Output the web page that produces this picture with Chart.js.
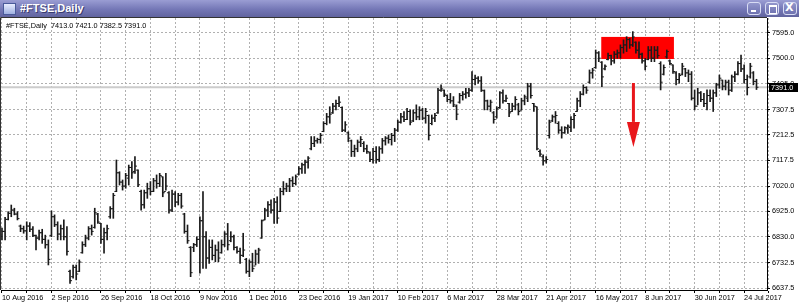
<!DOCTYPE html>
<html>
<head>
<meta charset="utf-8">
<script src="https://cdn.jsdelivr.net/npm/chart.js@4.4.1/dist/chart.umd.min.js"></script>
<style>
  html, body { margin: 0; padding: 0; background: #fff; }
  #wrap { position: relative; width: 799px; height: 306px; overflow: hidden; }
  #titlebar {
    position: absolute; left: 0; top: 0; width: 799px; height: 17px;
    background: linear-gradient(#9a9dd3, #7477b6 55%, #61649f);
  }
  #titlebar .icon {
    position: absolute; left: 3px; top: 3px; width: 11px; height: 10px;
    background: linear-gradient(#e8ecff, #9fb0e0); border: 1px solid #4a5a9a;
  }
  #titlebar .caption {
    position: absolute; left: 20px; top: 2px; color: #fff;
    font: bold 11px "Liberation Sans", Arial, sans-serif; text-shadow: 1px 1px 0 #3a3c70;
  }
  .btn {
    position: absolute; top: 2px; width: 14px; height: 13px; border-radius: 3px;
    border: 1px solid #d8dcf4; background: linear-gradient(#9296cc, #6e72b0);
    box-sizing: border-box;
  }
  .btn i { position: absolute; display: block; }
  .btn.min i { left: 3px; top: 7px; width: 5px; height: 2px; background: #fff; }
  .btn.max i { left: 3px; top: 2px; width: 6px; height: 6px; border: 1px solid #fff; border-top-width: 2px; }
  .btn.close i { left: 1px; top: -2px; color: #fff; font: bold 11px "DejaVu Sans", sans-serif; font-style: normal; }
  #chartBox { position: absolute; left: 0; top: 17px; width: 799px; height: 289px; }
  #info {
    position: absolute; left: 6px; top: 21px; color: #000;
    font: 7.3px "Liberation Sans", Arial, sans-serif; white-space: pre;
  }
</style>
</head>
<body>
<div id="wrap">
  <div id="titlebar">
    <div class="icon"></div>
    <div class="caption">#FTSE,Daily</div>
    <div class="btn min" style="left:747px"><i></i></div>
    <div class="btn max" style="left:765px"><i></i></div>
    <div class="btn close" style="left:783px"><i>X</i></div>
  </div>
  <div id="chartBox"><canvas id="ohlcChart"></canvas></div>
  <div id="info"></div>
</div>
<script>
// axis labels
const tickLabels = ["10 Aug 2016", "2 Sep 2016", "26 Sep 2016", "18 Oct 2016", "9 Nov 2016", "1 Dec 2016",
  "23 Dec 2016", "19 Jan 2017", "10 Feb 2017", "6 Mar 2017", "28 Mar 2017", "21 Apr 2017",
  "16 May 2017", "8 Jun 2017", "30 Jun 2017", "24 Jul 2017"];
const tickBars = [0, 16, 32, 48, 64, 80, 96, 112, 128, 144, 160, 176, 192, 208, 224, 240];
const yTicks = [6637.5, 6732.5, 6830.0, 6925.0, 7020.0, 7117.5, 7212.5, 7307.5, 7405.0, 7500.0, 7595.0];

// daily OHLC, one value per bar (10 Aug 2016 .. 31 Jul 2017)
const opens = [
  6830, 6850, 6895, 6918, 6930, 6915, 6870, 6860, 6852, 6870,
  6858, 6835, 6825, 6845, 6820, 6800, 6835, 6905, 6875, 6840,
  6860, 6830, 6700, 6680, 6715, 6700, 6770, 6800, 6825, 6860,
  6865, 6915, 6880, 6820, 6845, 6905, 6935, 7000, 7070, 7035,
  7020, 7050, 7090, 7075, 7080, 7000, 6950, 6995, 7010, 7000,
  7040, 7030, 7055, 7000, 6995, 6930, 6990, 6960, 6985, 6915,
  6850, 6790, 6790, 6800, 6820, 6890, 6830, 6750, 6790, 6760,
  6780, 6770, 6800, 6840, 6815, 6830, 6790, 6775, 6760, 6745,
  6700, 6735, 6720, 6765, 6825, 6893, 6930, 6950, 6930, 6960,
  6925, 7000, 7010, 7020, 7040, 7030, 7065, 7085, 7100, 7110,
  7160, 7180, 7190, 7195, 7225, 7255, 7280, 7295, 7320, 7330,
  7315, 7230, 7220, 7190, 7150, 7160, 7185, 7180, 7160, 7145,
  7120, 7150, 7120, 7160, 7190, 7200, 7195, 7210, 7230, 7260,
  7280, 7270, 7300, 7265, 7295, 7280, 7305, 7275, 7285, 7255,
  7275, 7295, 7380, 7380, 7360, 7345, 7340, 7320, 7335, 7360,
  7365, 7370, 7380, 7420, 7425, 7415, 7378, 7340, 7320, 7295,
  7280, 7315, 7370, 7340, 7330, 7300, 7320, 7325, 7305, 7340,
  7350, 7395, 7330, 7318, 7150, 7130, 7115, 7210, 7265, 7280,
  7255, 7230, 7220, 7235, 7240, 7270, 7300, 7340, 7365, 7390,
  7410, 7445, 7465, 7520, 7485, 7460, 7495, 7510, 7490, 7515,
  7520, 7540, 7550, 7570, 7550, 7560, 7530, 7515, 7490, 7495,
  7530, 7500, 7530, 7480, 7440, 7505, 7490, 7475, 7445, 7420,
  7440, 7460, 7445, 7440, 7350, 7320, 7370, 7345, 7330, 7360,
  7350, 7370, 7400, 7418, 7395, 7410, 7380, 7430, 7440, 7480,
  7460, 7420, 7430, 7445, 7413
];
const highs = [
  6862, 6903, 6924, 6949, 6937, 6924, 6874, 6870, 6886, 6883,
  6868, 6836, 6855, 6858, 6836, 6818, 6927, 6912, 6886, 6874,
  6893, 6868, 6705, 6724, 6724, 6743, 6811, 6836, 6868, 6874,
  6937, 6918, 6880, 6862, 6874, 6943, 6993, 7118, 7074, 7043,
  7068, 7099, 7112, 7131, 7081, 7005, 7005, 7031, 7037, 7049,
  7062, 7068, 7055, 7068, 6999, 7005, 6999, 6993, 6993, 6918,
  6874, 6793, 6805, 6830, 6905, 6999, 6849, 6818, 6818, 6799,
  6811, 6818, 6849, 6880, 6849, 6836, 6793, 6787, 6843, 6749,
  6743, 6768, 6780, 6787, 6893, 6937, 6962, 6968, 6974, 6980,
  7012, 7037, 7031, 7049, 7055, 7062, 7093, 7106, 7118, 7131,
  7206, 7206, 7200, 7218, 7262, 7293, 7318, 7331, 7343, 7356,
  7318, 7262, 7224, 7193, 7174, 7193, 7206, 7187, 7174, 7149,
  7162, 7168, 7168, 7199, 7206, 7212, 7218, 7237, 7268, 7293,
  7300, 7312, 7306, 7306, 7325, 7318, 7312, 7312, 7287, 7287,
  7293, 7387, 7400, 7381, 7362, 7368, 7356, 7325, 7368, 7375,
  7387, 7387, 7450, 7437, 7431, 7431, 7381, 7343, 7343, 7300,
  7318, 7375, 7381, 7362, 7331, 7331, 7356, 7331, 7350, 7362,
  7406, 7406, 7331, 7318, 7156, 7137, 7131, 7268, 7287, 7300,
  7262, 7243, 7243, 7250, 7281, 7293, 7350, 7375, 7400, 7393,
  7456, 7462, 7531, 7525, 7487, 7475, 7519, 7512, 7525, 7531,
  7550, 7569, 7581, 7575, 7600, 7562, 7562, 7519, 7500, 7544,
  7544, 7544, 7544, 7487, 7475, 7531, 7493, 7475, 7450, 7443,
  7481, 7462, 7456, 7450, 7381, 7387, 7375, 7368, 7381, 7381,
  7381, 7406, 7437, 7418, 7418, 7418, 7437, 7450, 7487, 7512,
  7475, 7437, 7481, 7450, 7421
];
const lows = [
  6818, 6818, 6893, 6905, 6912, 6893, 6849, 6843, 6818, 6849,
  6830, 6780, 6818, 6805, 6787, 6724, 6830, 6868, 6818, 6818,
  6818, 6761, 6655, 6674, 6668, 6699, 6768, 6793, 6818, 6836,
  6862, 6880, 6805, 6768, 6818, 6899, 6899, 6999, 7024, 7005,
  7012, 7024, 7049, 7068, 7018, 6930, 6937, 6974, 6987, 6999,
  7012, 7018, 6980, 7005, 6918, 6924, 6943, 6949, 6937, 6843,
  6805, 6680, 6774, 6793, 6693, 6711, 6711, 6730, 6743, 6736,
  6736, 6768, 6793, 6780, 6811, 6780, 6768, 6730, 6755, 6693,
  6680, 6699, 6724, 6730, 6824, 6893, 6905, 6918, 6880, 6880,
  6924, 6987, 6999, 6999, 7018, 7024, 7062, 7068, 7068, 7087,
  7156, 7168, 7181, 7181, 7224, 7250, 7256, 7293, 7306, 7318,
  7224, 7224, 7187, 7131, 7131, 7149, 7168, 7149, 7143, 7112,
  7106, 7106, 7112, 7143, 7174, 7181, 7174, 7187, 7225, 7256,
  7262, 7269, 7250, 7262, 7269, 7269, 7269, 7256, 7193, 7250,
  7262, 7293, 7375, 7356, 7337, 7331, 7318, 7269, 7331, 7343,
  7350, 7356, 7375, 7400, 7406, 7375, 7306, 7306, 7300, 7256,
  7275, 7312, 7331, 7337, 7281, 7300, 7306, 7287, 7306, 7325,
  7337, 7350, 7300, 7156, 7131, 7099, 7106, 7200, 7262, 7256,
  7218, 7200, 7218, 7218, 7224, 7237, 7300, 7318, 7362, 7368,
  7406, 7425, 7462, 7487, 7393, 7456, 7494, 7475, 7481, 7500,
  7500, 7519, 7525, 7537, 7544, 7519, 7500, 7481, 7456, 7494,
  7487, 7487, 7500, 7381, 7437, 7500, 7475, 7443, 7400, 7406,
  7437, 7431, 7412, 7343, 7306, 7325, 7337, 7318, 7306, 7337,
  7300, 7356, 7387, 7381, 7381, 7362, 7375, 7412, 7437, 7450,
  7406, 7362, 7425, 7400, 7382.5
];
const closes = [
  6850, 6895, 6918, 6930, 6915, 6898, 6860, 6852, 6870, 6858,
  6835, 6825, 6845, 6820, 6800, 6745, 6905, 6875, 6840, 6860,
  6830, 6775, 6665, 6715, 6690, 6735, 6800, 6825, 6860, 6850,
  6920, 6885, 6820, 6845, 6860, 6935, 6985, 7070, 7035, 7020,
  7060, 7090, 7070, 7095, 7025, 6950, 6995, 7010, 7000, 7040,
  7030, 7060, 6995, 7020, 6930, 6990, 6960, 6985, 6945, 6850,
  6815, 6695, 6800, 6820, 6890, 6830, 6750, 6790, 6760, 6780,
  6750, 6800, 6840, 6800, 6830, 6790, 6775, 6760, 6780, 6700,
  6735, 6710, 6765, 6780, 6890, 6930, 6950, 6930, 6960, 6900,
  7000, 7010, 7020, 7040, 7030, 7055, 7085, 7100, 7110, 7125,
  7180, 7190, 7195, 7210, 7255, 7280, 7290, 7320, 7330, 7335,
  7230, 7250, 7200, 7150, 7160, 7185, 7195, 7160, 7150, 7120,
  7150, 7120, 7160, 7190, 7200, 7195, 7210, 7230, 7260, 7280,
  7270, 7300, 7260, 7295, 7280, 7305, 7275, 7300, 7210, 7275,
  7285, 7380, 7385, 7365, 7345, 7340, 7325, 7290, 7360, 7365,
  7370, 7380, 7420, 7425, 7415, 7380, 7340, 7320, 7335, 7270,
  7310, 7370, 7340, 7350, 7295, 7320, 7345, 7300, 7340, 7355,
  7395, 7360, 7320, 7160, 7140, 7115, 7120, 7260, 7280, 7285,
  7230, 7220, 7240, 7245, 7270, 7285, 7340, 7365, 7390, 7380,
  7445, 7455, 7520, 7500, 7430, 7470, 7510, 7490, 7515, 7520,
  7540, 7550, 7570, 7550, 7580, 7530, 7515, 7490, 7470, 7530,
  7500, 7530, 7510, 7410, 7465, 7525, 7480, 7450, 7420, 7435,
  7470, 7445, 7440, 7350, 7320, 7370, 7345, 7330, 7360, 7350,
  7370, 7400, 7425, 7395, 7410, 7380, 7430, 7440, 7480, 7460,
  7420, 7390, 7470, 7413, 7391
];

const symbolName = "#FTSE,Daily";
const lastIdx = closes.length - 1;
const lastClose = closes[lastIdx];

// marked zone (red box) and the arrow below it, in bar / price units
const zoneBars = [193.8, 217.3];
const zonePrices = [7497, 7580];
const arrowBar = 204.2;
const arrowPrices = [7407, 7261, 7167];

const labelFont = '7.3px "Liberation Sans", Arial, sans-serif';

document.getElementById("info").textContent =
  symbolName + "  " + [opens[lastIdx], highs[lastIdx], lows[lastIdx], closes[lastIdx]]
    .map(v => v.toFixed(1)).join(" ");

const gridBars = tickBars.flatMap(b => [b, b + 8]);

// keep the plot area fixed: no extra room for half labels
function fixAxis(scale, size) {
  if (scale.isHorizontal()) scale.height = size; else scale.width = size;
  scale.paddingTop = 0;
  scale.paddingBottom = 0;
  scale.paddingLeft = 0;
  scale.paddingRight = 0;
}

const annotations = {
  id: "annotations",
  beforeDatasetsDraw(chart) {
    const { ctx, scales: { x, y } } = chart;
    const x1 = x.getPixelForValue(zoneBars[0]);
    const x2 = x.getPixelForValue(zoneBars[1]);
    const y1 = y.getPixelForValue(zonePrices[1]);
    const y2 = y.getPixelForValue(zonePrices[0]);
    ctx.save();
    ctx.fillStyle = "#ff0000";
    ctx.fillRect(x1, y1, x2 - x1, y2 - y1);
    ctx.restore();
  },
  afterDatasetsDraw(chart) {
    const { ctx, scales: { x, y } } = chart;
    const ax = x.getPixelForValue(arrowBar);
    const top = y.getPixelForValue(arrowPrices[0]);
    const neck = y.getPixelForValue(arrowPrices[1]);
    const tip = y.getPixelForValue(arrowPrices[2]);
    ctx.save();
    ctx.fillStyle = "#e8161b";
    ctx.fillRect(ax - 1.5, top, 3, neck - top);
    ctx.beginPath();
    ctx.moveTo(ax - 6.5, neck);
    ctx.lineTo(ax + 6.5, neck);
    ctx.lineTo(ax, tip);
    ctx.closePath();
    ctx.fill();
    ctx.restore();
  },
  afterDraw(chart) {
    const { ctx, chartArea, scales: { y } } = chart;
    ctx.save();
    // left and top frame lines
    ctx.strokeStyle = "#333";
    ctx.lineWidth = 1;
    ctx.beginPath();
    ctx.moveTo(0.5, chartArea.bottom);
    ctx.lineTo(0.5, 0.5);
    ctx.lineTo(chartArea.right, 0.5);
    ctx.stroke();
    // last price box on the price scale
    const py = y.getPixelForValue(lastClose);
    ctx.fillStyle = "#000";
    ctx.fillRect(chartArea.right + 2, Math.round(py - 4), 29, 9);
    ctx.fillStyle = "#fff";
    ctx.font = labelFont;
    ctx.textBaseline = "middle";
    ctx.fillText(lastClose.toFixed(1), chartArea.right + 4, py + 0.5);
    ctx.restore();
  }
};

const ctx = document.getElementById("ohlcChart").getContext("2d");

const myChart = new Chart(ctx, {
  type: "bar",
  data: {
    datasets: [
      {
        type: "line",
        label: "last price",
        data: [{ x: -1, y: lastClose }, { x: 250, y: lastClose }],
        borderColor: "#cccccc",
        borderWidth: 2,
        pointRadius: 0,
        order: 10,
      },
      {
        type: "bar",
        label: "high-low",
        data: highs.map((h, i) => ({ x: i, y: [lows[i], h] })),
        backgroundColor: "#1a1a1a",
        barThickness: 1,
        order: 3,
      },
      {
        type: "line",
        label: "open",
        data: opens.map((o, i) => ({ x: i - 0.33, y: o })),
        showLine: false,
        pointStyle: "line",
        pointRadius: 1,
        pointBorderWidth: 1,
        borderColor: "#1a1a1a",
        order: 2,
      },
      {
        type: "line",
        label: "close",
        data: closes.map((c, i) => ({ x: i + 0.33, y: c })),
        showLine: false,
        pointStyle: "line",
        pointRadius: 1,
        pointBorderWidth: 1,
        borderColor: "#1a1a1a",
        order: 1,
      },
    ],
  },
  options: {
    responsive: true,
    maintainAspectRatio: false,
    animation: false,
    events: [],
    layout: { autoPadding: false, padding: { left: 1, top: 1, right: 0, bottom: 0 } },
    plugins: { legend: { display: false }, tooltip: { enabled: false } },
    scales: {
      x: {
        type: "linear",
        min: -0.32,
        max: 247.4,
        offset: false,
        afterBuildTicks: (scale) => { scale.ticks = gridBars.map(v => ({ value: v })); },
        afterFit: (scale) => fixAxis(scale, 16),
        grid: {
          offset: false,
          color: "#b0b0b0",
          tickColor: "#000",
          tickLength: 3,
          tickBorderDash: [],
        },
        border: { display: true, color: "#000", width: 1, dash: [2, 2] },
        ticks: {
          autoSkip: false,
          maxRotation: 0,
          align: "start",
          padding: 1,
          color: "#000",
          font: { family: "Liberation Sans, Arial, sans-serif", size: 7.3 },
          callback: (value) => {
            const k = tickBars.indexOf(value);
            return k >= 0 ? tickLabels[k] : "";
          },
        },
      },
      y: {
        type: "linear",
        position: "right",
        min: 6630,
        max: 7651,
        afterBuildTicks: (scale) => { scale.ticks = yTicks.map(v => ({ value: v })); },
        afterFit: (scale) => fixAxis(scale, 32),
        grid: {
          color: "#b0b0b0",
          tickColor: "#000",
          tickLength: 3,
          tickBorderDash: [],
        },
        border: { display: true, color: "#000", width: 1, dash: [2, 2] },
        ticks: {
          padding: 2,
          color: "#000",
          font: { family: "Liberation Sans, Arial, sans-serif", size: 7.3 },
          callback: (value) => Number(value).toFixed(1),
        },
      },
    },
  },
  plugins: [annotations],
});
</script>
</body>
</html>
